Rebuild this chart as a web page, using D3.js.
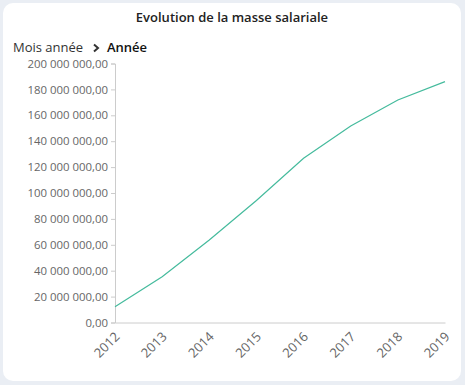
<!DOCTYPE html>
<html>
<head>
<meta charset="utf-8">
<script src="https://cdn.jsdelivr.net/npm/d3@7"></script>
<style>
  html, body { margin: 0; padding: 0; background: #eaeef4; }
  svg { display: block; font-family: "Open Sans", sans-serif; }
</style>
</head>
<body>
<svg id="chart" width="465" height="385"></svg>
<script>
// data
const years = ["2012", "2013", "2014", "2015", "2016", "2017", "2018", "2019"];
const masse = [12.2e6, 35.4e6, 63.7e6, 94.2e6, 126.8e6, 151.7e6, 171.8e6, 186e6];
const yTicks = [0, 20e6, 40e6, 60e6, 80e6, 100e6, 120e6, 140e6, 160e6, 180e6, 200e6];

const svg = d3.select('#chart');

// card
svg.append('rect')
    .attr('x', 3).attr('y', 3)
    .attr('width', 458).attr('height', 378)
    .attr('rx', 10)
    .attr('fill', '#fff');

svg.append('text')
    .attr('x', 232).attr('y', 22)
    .attr('text-anchor', 'middle')
    .attr('font-size', 13).attr('font-weight', 600)
    .attr('fill', '#222')
    .text('Evolution de la masse salariale');

// breadcrumb
svg.append('text')
    .attr('x', 13).attr('y', 52)
    .attr('font-size', 13).attr('fill', '#333')
    .text('Mois année');
svg.append('path')
    .attr('d', 'M94,44.5 L98,48 L94,51.5')
    .attr('fill', 'none')
    .attr('stroke', '#333')
    .attr('stroke-width', 2);
svg.append('text')
    .attr('x', 107).attr('y', 52)
    .attr('font-size', 13).attr('font-weight', 600)
    .attr('fill', '#111')
    .text('Année');

const margin = { left: 115, right: 20, top: 63.5, bottom: 62.5 };
const height = 385 - margin.top - margin.bottom;

const x = d3.scalePoint().domain(years).range([0, 330]);
const y = d3.scaleLinear().domain([0, 200e6]).range([height, 0]);

const fmt = v => {
    const s = d3.format(',.2f')(v);
    return s.replace(/,/g, ' ').replace('.', ',');
};

const g = svg.append('g').attr('transform', `translate(${margin.left},${margin.top})`);

// y axis
const yAxis = g.append('g')
    .call(d3.axisLeft(y).tickValues(yTicks).tickFormat(fmt).tickSize(4).tickPadding(3));
yAxis.select('.domain').attr('stroke', '#ccc');
yAxis.selectAll('.tick line').attr('stroke', '#ccc');
yAxis.selectAll('.tick text')
    .attr('fill', '#666').attr('font-size', 11.4)
    .attr('font-family', '"Open Sans", sans-serif');

// x axis
const xAxis = g.append('g')
    .attr('transform', `translate(0,${height})`)
    .call(d3.axisBottom(x).tickSize(0).tickPadding(0));
xAxis.select('.domain').attr('stroke', '#ccc');
xAxis.selectAll('.tick text')
    .attr('fill', '#666').attr('font-size', 13)
    .attr('font-family', '"Open Sans", sans-serif')
    .attr('text-anchor', 'end')
    .attr('dy', 0)
    .attr('transform', 'translate(5,15) rotate(-45)');

// line
const line = d3.line()
    .x((d, i) => x(years[i]))
    .y(d => y(d));

g.append('path')
    .datum(masse)
    .attr('fill', 'none')
    .attr('stroke', '#45bb9d')
    .attr('stroke-width', 1.2)
    .attr('d', line);
</script>
</body>
</html>
